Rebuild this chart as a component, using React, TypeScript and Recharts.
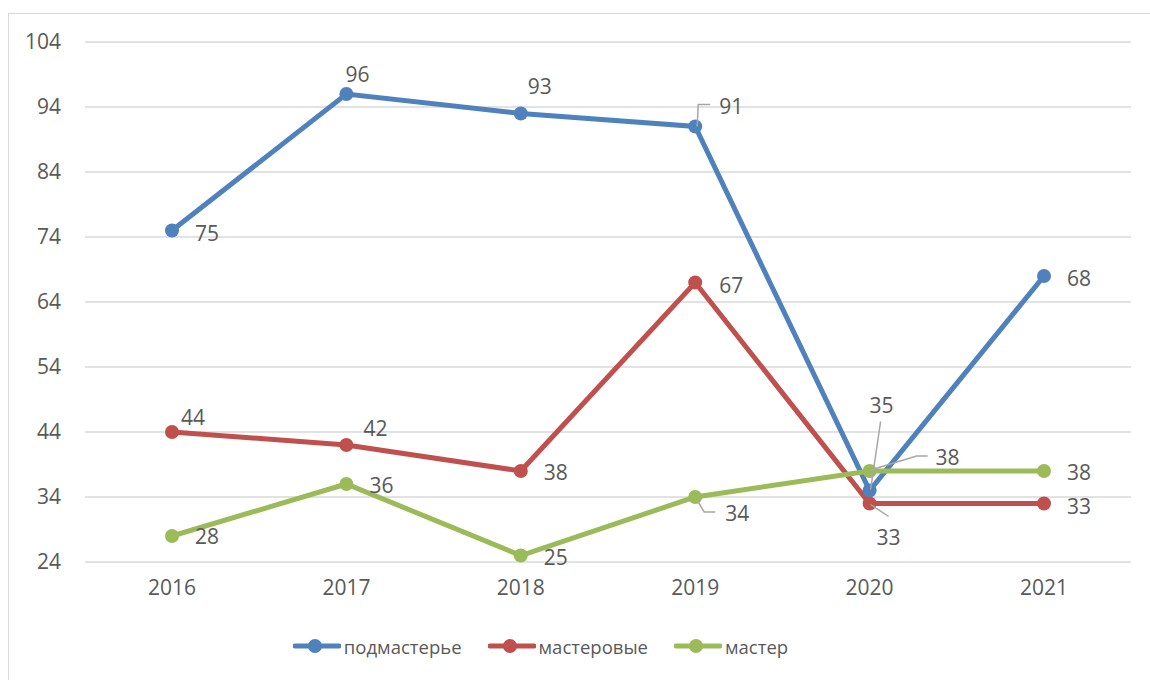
import React from 'react';
import { LineChart, Line, XAxis, YAxis, CartesianGrid, Legend, LabelList } from 'recharts';

const years = ['2016', '2017', '2018', '2019', '2020', '2021'];
const podmasterye = [75, 96, 93, 91, 35, 68];
const masterovye = [44, 42, 38, 67, 33, 33];
const master = [28, 36, 25, 34, 38, 38];
const yTicks = [24, 34, 44, 54, 64, 74, 84, 94, 104];

const seriesNames = ['подмастерье', 'мастеровые', 'мастер'];
const colors = ['#4F81BD', '#C0504D', '#9BBB59'];

const data = years.map((y, i) => ({
  year: y,
  s0: podmasterye[i],
  s1: masterovye[i],
  s2: master[i],
}));

type LabelPos = { dx: number; dy: number; leader?: number[][] };

// label placement (relative to the point), like Excel's manually moved data labels
const labelPos: LabelPos[][] = [
  [
    { dx: 35, dy: 2 },
    { dx: 11, dy: -20 },
    { dx: 19, dy: -28 },
    { dx: 36, dy: -21, leader: [[2, 0], [3, -22], [15, -22]] },
    { dx: 12, dy: -86, leader: [[11, -69], [1, -1]] },
    { dx: 35, dy: 2 },
  ],
  [
    { dx: 21, dy: -15 },
    { dx: 29, dy: -17 },
    { dx: 35, dy: 1 },
    { dx: 36, dy: 2 },
    { dx: 19, dy: 33, leader: [[1, 1], [19, 13]] },
    { dx: 35, dy: 2 },
  ],
  [
    { dx: 35, dy: 0 },
    { dx: 35, dy: 1 },
    { dx: 35, dy: 1 },
    { dx: 42, dy: 16, leader: [[3, 5], [9, 15], [20, 15]] },
    { dx: 78, dy: -14, leader: [[1, -1], [47, -15], [58, -15]] },
    { dx: 35, dy: 1 },
  ],
];

const FONT = '"Open Sans", sans-serif';
const TEXT = '#595959';
const FS = 21;

const makeLabel = (si: number) => (props: any) => {
  const { x, y, value, index } = props;
  const p = labelPos[si][index];
  if (!p) return null;
  return (
    <g>
      {p.leader && (
        <polyline
          points={p.leader.map(([a, b]) => `${x + a},${y + b}`).join(' ')}
          fill="none"
          stroke="#A6A6A6"
          strokeWidth={1.5}
        />
      )}
      <text
        x={x + p.dx}
        y={y + p.dy}
        textAnchor="middle"
        dominantBaseline="central"
        fontSize={FS}
        fontFamily={FONT}
        fill={TEXT}
      >
        {value}
      </text>
    </g>
  );
};

const LegendContent = () => (
  <div style={{ display: 'flex', justifyContent: 'center', alignItems: 'center', height: 36, paddingRight: 50, fontFamily: FONT, fontSize: 18.5, color: TEXT }}>
    {seriesNames.map((n, i) => (
      <div key={n} style={{ display: 'flex', alignItems: 'center', marginLeft: i === 0 ? 0 : 26 }}>
        <svg width={48} height={16} style={{ marginRight: 3 }}>
          <line x1={2} y1={8} x2={46} y2={8} stroke={colors[i]} strokeWidth={5} strokeLinecap="round" />
          <circle cx={22} cy={8} r={7} fill={colors[i]} />
        </svg>
        <span>{n}</span>
      </div>
    ))}
  </div>
);

export default function App() {
  return (
    <div style={{ position: 'absolute', left: 0, top: 0, width: 1150, height: 680, overflow: 'hidden', background: '#fff' }}>
      <div style={{ position: 'absolute', left: 8, top: 13, width: 1170, height: 700, border: '1px solid #D9D9D9' }} />
      <LineChart
        width={1150}
        height={680}
        data={data}
        margin={{ top: 42, right: 19, bottom: 16, left: 0 }}
        style={{ position: 'absolute', left: 0, top: 0 }}
      >
        <CartesianGrid horizontal vertical={false} stroke="#D9D9D9" strokeWidth={1.5} />
        <XAxis
          dataKey="year"
          axisLine={false}
          tickLine={false}
          tickSize={0}
          tickMargin={18}
          height={66}
          padding={{ left: 87, right: 87 }}
          tick={{ fill: TEXT, fontSize: FS, fontFamily: FONT }}
        />
        <YAxis
          domain={[24, 104]}
          ticks={yTicks}
          axisLine={false}
          tickLine={false}
          tickSize={0}
          tickMargin={24}
          width={85}
          tick={{ fill: TEXT, fontSize: FS, fontFamily: FONT }}
        />
        <Legend verticalAlign="bottom" content={<LegendContent />} />
        {['s0', 's1', 's2'].map((k, i) => (
          <Line
            key={k}
            dataKey={k}
            name={seriesNames[i]}
            stroke={colors[i]}
            strokeWidth={5}
            dot={{ r: 7, fill: colors[i], stroke: 'none' }}
            activeDot={false}
            isAnimationActive={false}
          >
            <LabelList dataKey={k} content={makeLabel(i)} />
          </Line>
        ))}
      </LineChart>
    </div>
  );
}
